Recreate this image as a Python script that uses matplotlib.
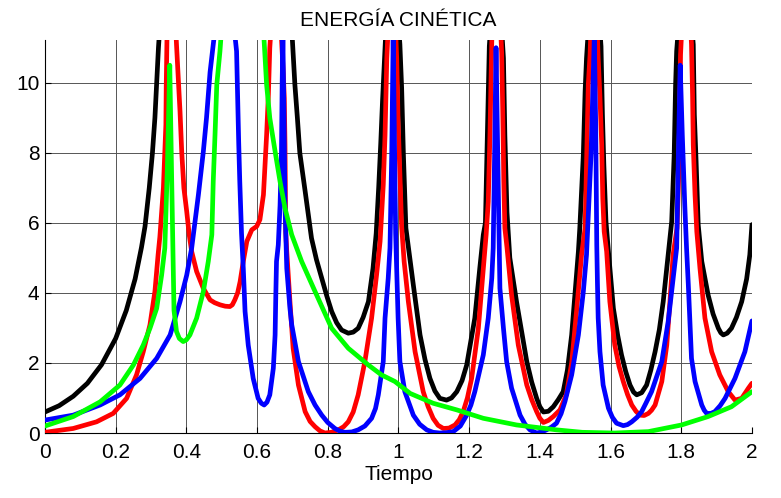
import matplotlib
matplotlib.use("Agg")
import matplotlib.pyplot as plt
from matplotlib.ticker import FormatStrFormatter

plt.rcParams['font.family'] = ['Liberation Sans', 'DejaVu Sans']

# ---- data (values above 11.2 are off-chart peak estimates) ----
t_black = [0, 0.04, 0.08, 0.12, 0.16, 0.2, 0.23, 0.255, 0.273, 0.283, 0.295, 0.304, 0.311, 0.316, 0.321,
           0.51,
           0.70, 0.707, 0.714, 0.721, 0.736, 0.754, 0.768, 0.783, 0.797, 0.811, 0.825, 0.839, 0.858, 0.872,
           0.886, 0.9, 0.915, 0.928, 0.937, 0.944, 0.95, 0.955, 0.96, 0.963,
           0.983,
           1.004, 1.009, 1.014, 1.021, 1.042, 1.061, 1.075, 1.089, 1.103, 1.117, 1.136, 1.15, 1.165, 1.18,
           1.193, 1.216, 1.23, 1.24, 1.246, 1.25, 1.254, 1.257,
           1.277,
           1.297, 1.301, 1.307, 1.315, 1.334, 1.35, 1.363, 1.377, 1.391, 1.40, 1.41, 1.424, 1.438, 1.452,
           1.466, 1.478, 1.49, 1.499, 1.509, 1.513, 1.523, 1.528, 1.532,
           1.553,
           1.573, 1.577, 1.581, 1.587, 1.594, 1.608, 1.62, 1.631, 1.643, 1.655, 1.665, 1.674, 1.688, 1.702,
           1.714, 1.726, 1.738, 1.749, 1.763, 1.773, 1.78, 1.784, 1.787,
           1.81,
           1.834, 1.837, 1.842, 1.848, 1.858, 1.876, 1.89, 1.905, 1.912, 1.919, 1.93, 1.942, 1.956, 1.971,
           1.985, 1.994, 2.0]
e_black = [0.6, 0.78, 1.05, 1.42, 1.95, 2.7, 3.5, 4.4, 5.3, 5.9, 7.0, 8.0, 9.0, 10.0, 11.0,
           40,
           11.2, 9.94, 9.0, 7.99, 6.9, 5.56, 4.95, 4.42, 3.92, 3.47, 3.15, 2.94, 2.85, 2.88,
           2.99, 3.3, 3.75, 4.7, 5.7, 7.0, 8.3, 9.5, 10.6, 11.2,
           14,
           11.1, 9.85, 7.94, 5.85, 4.23, 2.8, 2.1, 1.56, 1.2, 0.99, 0.94, 1.0, 1.18, 1.5,
           1.94, 3.28, 4.7, 5.66, 6.0, 7.9, 9.66, 11.04,
           14,
           10.7, 8.5, 6.3, 5.0, 3.75, 2.8, 2.04, 1.45, 0.99, 0.75, 0.6, 0.62, 0.75, 0.95,
           1.18, 1.8, 2.8, 3.94, 5.18, 5.85, 7.94, 9.75, 10.7,
           14,
           11.04, 9.09, 7.66, 6.04, 5.18, 3.56, 2.8, 2.23, 1.75, 1.37, 1.17, 1.09, 1.15, 1.37,
           1.8, 2.32, 2.95, 3.75, 5.09, 6.04, 7.94, 9.94, 10.9,
           14,
           11.09, 9.09, 7.76, 5.94, 4.9, 3.94, 3.4, 2.99, 2.86, 2.8, 2.85, 2.99, 3.3, 3.75,
           4.4, 5.09, 5.95]

t_red = [0, 0.08, 0.146, 0.193, 0.231, 0.259, 0.278, 0.297, 0.311, 0.32, 0.325, 0.335, 0.342, 0.343, 0.345,
         0.358,
         0.372, 0.382, 0.387, 0.393, 0.401, 0.408, 0.415, 0.429, 0.448, 0.467, 0.48, 0.495, 0.51, 0.523,
         0.53, 0.537, 0.545, 0.552, 0.561, 0.571, 0.585, 0.599, 0.608, 0.618, 0.622, 0.627, 0.632, 0.636,
         0.655,
         0.674, 0.677, 0.679, 0.680, 0.681, 0.684, 0.693, 0.702, 0.717, 0.736, 0.75, 0.764, 0.778, 0.792,
         0.81, 0.83, 0.845, 0.858, 0.872, 0.886, 0.905, 0.924, 0.938, 0.948, 0.957, 0.962, 0.967,
         0.982,
         0.995, 0.999, 1.004, 1.009, 1.016, 1.028, 1.047, 1.07, 1.084, 1.098, 1.112, 1.127, 1.143, 1.16,
         1.172, 1.183, 1.195, 1.207, 1.226, 1.24, 1.248, 1.254, 1.259, 1.264,
         1.278,
         1.292, 1.295, 1.298, 1.301, 1.307, 1.32, 1.339, 1.363, 1.377, 1.391, 1.40, 1.41, 1.424, 1.438,
         1.457, 1.475, 1.49, 1.504, 1.518, 1.528, 1.532, 1.537, 1.542,
         1.553,
         1.565, 1.57, 1.575, 1.578, 1.582, 1.589, 1.598, 1.612, 1.624, 1.636, 1.648, 1.66, 1.672, 1.683,
         1.695, 1.707, 1.716, 1.726, 1.745, 1.759, 1.768, 1.777, 1.788, 1.793, 1.796, 1.798,
         1.813,
         1.829, 1.832, 1.834, 1.839, 1.844, 1.853, 1.867, 1.886, 1.909, 1.933, 1.952, 1.971, 1.99, 2.0]
e_red = [0.02, 0.13, 0.32, 0.56, 0.99, 1.66, 2.32, 3.09, 4.04, 5.09, 5.6, 7.0, 8.8, 9.9, 11.2,
         14,
         11.1, 9.18, 7.99, 6.99, 6.32, 5.66, 5.18, 4.61, 4.13, 3.8, 3.72, 3.66, 3.62, 3.61,
         3.66, 3.8, 4.0, 4.32, 4.9, 5.47, 5.8, 5.9, 6.09, 6.8, 7.56, 8.51, 9.66, 11.0,
         14,
         10.3, 9.56, 8.23, 6.9, 5.75, 5.18, 3.75, 2.42, 1.37, 0.61, 0.33, 0.18, 0.06, 0.0,
         0.02, 0.09, 0.18, 0.32, 0.6, 1.09, 2.04, 3.28, 4.51, 5.47, 7.09, 8.5, 10.7,
         14,
         10.7, 8.9, 7.37, 5.9, 4.9, 3.75, 2.32, 1.18, 0.75, 0.42, 0.22, 0.13, 0.14, 0.23,
         0.38, 0.61, 1.0, 1.56, 2.99, 4.7, 5.66, 6.6, 8.6, 11.2,
         14,
         10.85, 9.2, 7.18, 5.85, 5.3, 3.94, 2.51, 1.37, 0.95, 0.61, 0.42, 0.3, 0.36, 0.47,
         0.66, 1.1, 2.0, 3.5, 5.09, 5.85, 7.66, 9.94, 10.8,
         14,
         10.7, 9.6, 8.23, 6.7, 5.75, 5.18, 3.75, 2.51, 1.9, 1.47, 1.1, 0.8, 0.62, 0.51,
         0.5, 0.56, 0.65, 0.8, 1.47, 2.51, 3.75, 5.09, 5.85, 7.4, 9.2, 10.8,
         14,
         11.1, 9.66, 8.23, 6.8, 5.75, 4.7, 3.28, 2.32, 1.66, 1.18, 0.94, 0.99, 1.28, 1.42]

t_blue = [0, 0.08, 0.156, 0.212, 0.269, 0.316, 0.354, 0.382, 0.401, 0.415, 0.434, 0.448, 0.457, 0.467, 0.476,
          0.51,
          0.542, 0.548, 0.551, 0.556, 0.561, 0.566, 0.575, 0.589, 0.603, 0.612, 0.62, 0.628, 0.636, 0.646,
          0.651, 0.653, 0.655, 0.66, 0.665, 0.669, 0.671, 0.673, 0.676, 0.679, 0.684, 0.693, 0.698, 0.717,
          0.745, 0.764, 0.783, 0.80, 0.82, 0.835, 0.849, 0.868, 0.886, 0.905, 0.924, 0.935, 0.943, 0.957,
          0.962, 0.971, 0.976, 0.981, 0.985, 0.989, 0.992,
          0.995, 0.999, 1.004, 1.018, 1.042, 1.06, 1.08, 1.098, 1.117, 1.136, 1.155, 1.175, 1.193, 1.205,
          1.216, 1.24, 1.254, 1.264, 1.268, 1.272, 1.276, 1.28, 1.284, 1.287, 1.297, 1.306, 1.32, 1.344,
          1.358, 1.372, 1.391, 1.405, 1.419, 1.433, 1.447, 1.46, 1.471, 1.49, 1.509, 1.523, 1.532, 1.545,
          1.554, 1.558, 1.56, 1.561, 1.563, 1.565, 1.57, 1.579, 1.594, 1.605, 1.617, 1.636, 1.648, 1.66,
          1.675, 1.688, 1.7, 1.716, 1.745, 1.763, 1.777, 1.787, 1.792, 1.797, 1.803, 1.81, 1.815, 1.82,
          1.825, 1.829, 1.839, 1.858, 1.865, 1.872, 1.884, 1.895, 1.91, 1.924, 1.952, 1.98, 2.0]
e_blue = [0.37, 0.51, 0.8, 1.09, 1.56, 2.13, 2.8, 3.75, 4.51, 5.28, 6.8, 8.04, 9.0, 10.3, 11.09,
          14,
          10.9, 8.3, 7.2, 5.7, 4.7, 3.47, 2.51, 1.56, 0.99, 0.85, 0.8, 0.88, 1.09, 1.85,
          2.8, 3.94, 4.9, 5.37, 6.5, 8.0, 10.0, 11.3, 9.1, 6.5, 4.7, 3.56, 3.09, 2.04,
          1.18, 0.8, 0.51, 0.3, 0.13, 0.05, 0.02, 0.03, 0.09, 0.2, 0.42, 0.7, 1.09, 2.04,
          3.28, 4.42, 5.28, 8.0, 11.3, 8.0, 5.7,
          4.7, 3.28, 2.04, 1.18, 0.51, 0.25, 0.09, 0.02, 0.0, 0.01, 0.04, 0.2, 0.51, 0.8,
          1.18, 2.23, 3.28, 4.42, 5.28, 8.0, 11.0, 8.5, 6.0, 4.13, 2.99, 2.04, 1.28, 0.51,
          0.25, 0.09, 0.0, 0.03, 0.09, 0.17, 0.28, 0.55, 0.9, 1.66, 2.8, 4.04, 5.09, 8.0,
          11.3, 8.8, 6.5, 5.37, 4.23, 3.28, 2.32, 1.37, 0.71, 0.45, 0.28, 0.21, 0.24, 0.32,
          0.45, 0.61, 0.85, 1.18, 2.04, 3.18, 4.42, 5.28, 8.0, 10.5, 8.5, 6.5, 5.28, 4.23,
          3.09, 2.13, 1.47, 0.8, 0.65, 0.56, 0.56, 0.61, 0.78, 0.99, 1.56, 2.32, 3.2]

t_green = [0, 0.08, 0.156, 0.212, 0.25, 0.278, 0.297, 0.316, 0.33, 0.339, 0.346, 0.353, 0.358, 0.362,
           0.365, 0.372, 0.38, 0.391, 0.40, 0.41, 0.429, 0.448, 0.462, 0.472, 0.476, 0.481, 0.486, 0.495,
           0.56,
           0.62, 0.627, 0.636, 0.651, 0.665, 0.679, 0.698, 0.726, 0.764, 0.811, 0.858, 0.915, 0.952,
           0.99, 1.033, 1.098, 1.165, 1.24, 1.334, 1.447, 1.52, 1.612, 1.707, 1.801, 1.876, 1.942, 2.0]
e_green = [0.2, 0.47, 0.89, 1.37, 1.94, 2.51, 2.99, 3.56, 4.51, 5.28, 7.5, 10.5, 7.5, 5.2,
           3.5, 2.9, 2.7, 2.61, 2.66, 2.8, 3.28, 4.04, 4.9, 5.66, 7.18, 8.51, 9.94, 10.9,
           20,
           11.18, 9.94, 8.99, 8.04, 7.18, 6.42, 5.66, 4.9, 4.04, 2.99, 2.42, 1.94, 1.66,
           1.47, 1.13, 0.85, 0.66, 0.42, 0.23, 0.09, 0.02, 0.0, 0.04, 0.23, 0.47, 0.75, 1.18]

x_ticks = [0, 0.2, 0.4, 0.6, 0.8, 1.0, 1.2, 1.4, 1.6, 1.8, 2.0]
y_ticks = [0, 2, 4, 6, 8, 10]

# ---- figure ----
fig = plt.figure(figsize=(7.81, 4.98), dpi=100)
ax = fig.add_axes([0.0576, 0.1305, 0.9052, 0.7892])

series = [(t_black, e_black, '#000000'), (t_red, e_red, '#ff0000'),
          (t_blue, e_blue, '#0000ff'), (t_green, e_green, '#00ff00')]
for t, e, c in series:
    ax.plot(t, e, '-', color=c, lw=3.4, solid_capstyle='round', solid_joinstyle='round', zorder=3)

ax.set_xlim(0, 2)
ax.set_ylim(0, 11.22)
ax.set_xticks(x_ticks)
ax.set_yticks(y_ticks)
ax.xaxis.set_major_formatter(FormatStrFormatter('%g'))
ax.yaxis.set_major_formatter(FormatStrFormatter('%g'))
ax.grid(True, color='#555555', lw=0.7)
ax.set_axisbelow(True)
for s in ['top', 'right']:
    ax.spines[s].set_visible(False)
for s in ['left', 'bottom']:
    ax.spines[s].set_linewidth(0.8)
ax.tick_params(direction='in', length=4, width=0.8, labelsize=15)
ax.tick_params(axis='x', pad=7)
ax.tick_params(axis='y', pad=4)

ax.set_title('ENERGÍA CINÉTICA', fontsize=15, pad=10)
ax.set_xlabel('Tiempo', fontsize=15, labelpad=2)

fig.savefig('out.png', dpi=100)
